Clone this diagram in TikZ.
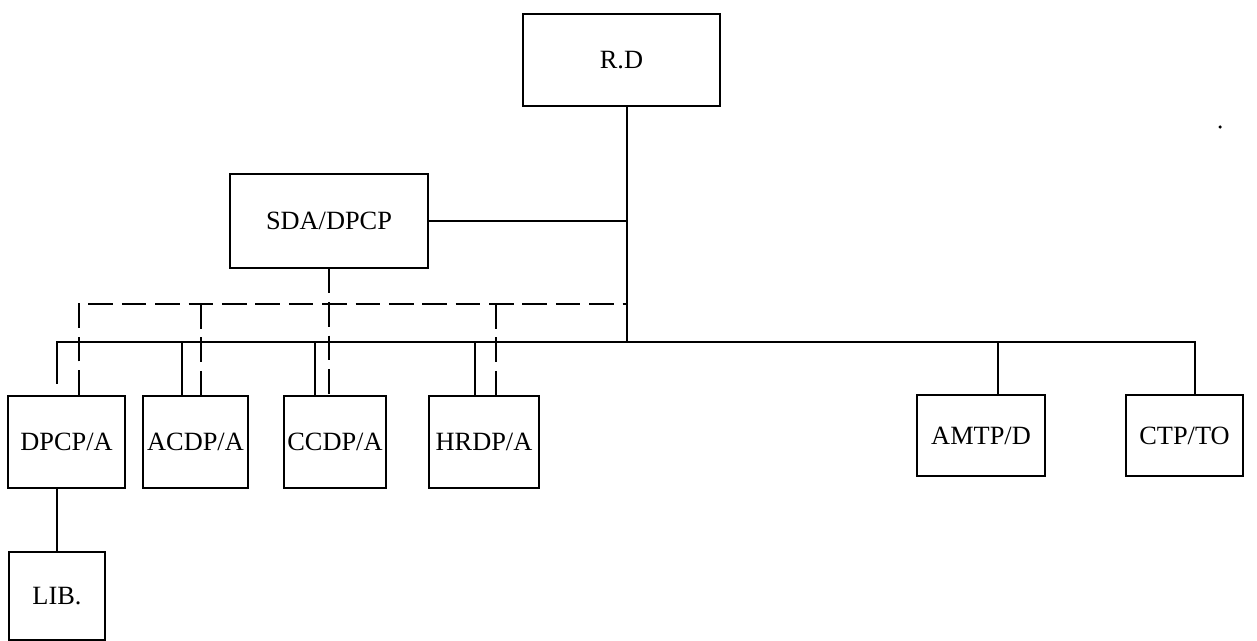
\documentclass[tikz,border=0pt]{standalone}
\usepackage{fontspec}
\setmainfont{Liberation Serif}
\begin{document}
\begin{tikzpicture}[x=0.02cm,y=-0.02cm,
    orgbox/.style 2 args={draw, line width=1pt, inner sep=0pt,
        minimum width=#1*0.02cm, minimum height=#2*0.02cm,
        font=\fontsize{15}{18}\selectfont},
    unitbox/.style 2 args={orgbox={#1}{#2}, line width=1.5pt},
    link/.style={line width=1pt},
    dashlink/.style={line width=1pt, dash pattern=on 14pt off 5pt}]
    \useasboundingbox (0,0) rectangle (1257,641);

    % Draw boxes
    \node[orgbox={197}{92}] (rd) at (621.5,60) {R.D};
    \node[orgbox={198}{94}] (sda) at (329,221) {SDA/DPCP};

    \node[unitbox={117}{92}] (dpcpa) at (66.5,442) {DPCP/A};
    \node[unitbox={105}{92}] (acdpa) at (195.5,442) {ACDP/A};
    \node[unitbox={102}{92}] (ccdpa) at (335,442) {CCDP/A};
    \node[unitbox={110}{92}] (hrdpa) at (484,442) {HRDP/A};
    \node[unitbox={128}{81}] (amtpd) at (981,435.5) {AMTP/D};
    \node[unitbox={117}{81}] (ctpto) at (1184.5,435.5) {CTP/TO};
    \node[unitbox={96}{88}] (lib) at (57,596) {LIB.};

    % Junction points
    \coordinate (spine) at (627,342);
    \coordinate (dspine) at (627,304);
    \coordinate (dpcp-s) at (57,342);
    \coordinate (dpcp-end) at (57,384);
    \coordinate (acdp-s) at (182,342);
    \coordinate (ccdp-s) at (315,342);
    \coordinate (hrdp-s) at (475,342);
    \coordinate (amtp-s) at (998,342);
    \coordinate (ctp-s) at (1195,342);
    \coordinate (dpcp-d) at (79,304);
    \coordinate (acdp-d) at (201,304);
    \coordinate (hrdp-d) at (496,304);

    % Solid links
    \draw[link] (rd.south -| spine) -- (spine);
    \draw[link] (sda.east) -- (sda.east -| spine);
    \draw[link] (dpcp-end) -- (dpcp-s) -- (ctp-s) -- (ctp-s |- ctpto.north);
    \draw[link] (acdp-s) -- (acdp-s |- acdpa.north);
    \draw[link] (ccdp-s) -- (ccdp-s |- ccdpa.north);
    \draw[link] (hrdp-s) -- (hrdp-s |- hrdpa.north);
    \draw[link] (amtp-s) -- (amtp-s |- amtpd.north);
    \draw[link] (dpcpa.south -| lib.north) -- (lib.north);

    % Dashed links
    \draw[dashlink] (dpcp-d |- dpcpa.north) -- (dpcp-d) -- (dspine);
    \draw[dashlink] (acdp-d) -- (acdp-d |- acdpa.north);
    \draw[dashlink] (hrdp-d) -- (hrdp-d |- hrdpa.north);
    \draw[dashlink] (sda.south) -- (sda.south |- ccdpa.north);

    \fill (1220,127) circle (1pt);
\end{tikzpicture}
\end{document}
